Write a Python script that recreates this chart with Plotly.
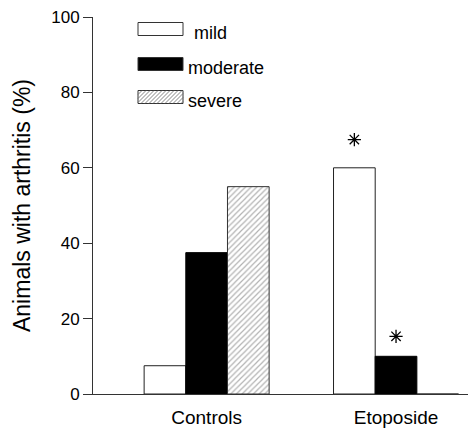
import plotly.graph_objects as go

categories = ["Controls", "Etoposide"]
series_names = ["mild", "moderate", "severe"]
mild = [7.5, 60.0]
moderate = [37.5, 10.0]
severe = [55.0, 0.0]
# significance stars: (category index, series index, y value)
star_cat = [1, 1]
star_series = [0, 1]
star_y = [67.5, 15.3]
y_ticks = [0, 20, 40, 60, 80, 100]

W, H = 468, 431
ML, MR, MT, MB = 93, 0, 17, 37
PW, PH = W - ML - MR, H - MT - MB
BARGAP = 0.34
bar_w = (1 - BARGAP) / 3
x_pos = list(range(len(categories)))

fig = go.Figure()
fig.add_trace(go.Bar(x=x_pos, y=mild, name="mild",
                     marker=dict(color="white", line=dict(color="#222", width=1))))
fig.add_trace(go.Bar(x=x_pos, y=moderate, name="moderate",
                     marker=dict(color="black", line=dict(color="black", width=1))))
fig.add_trace(go.Bar(x=x_pos, y=severe, name="severe",
                     marker=dict(color="white", line=dict(color="#333", width=1),
                                 pattern=dict(shape="/", fgcolor="#666", bgcolor="white",
                                              size=4, solidity=0.3))))

sx = [x_pos[c] + (s - 1) * bar_w for c, s in zip(star_cat, star_series)]
fig.add_trace(go.Scatter(x=sx, y=star_y, mode="markers", showlegend=False,
                         marker=dict(symbol="asterisk-open", size=11, color="black",
                                     line=dict(color="black", width=1.3))))

# manual legend
def px2paper(px, py):
    return (px - ML) / PW, (H - MB - py) / PH

shapes = []
annotations = []
box_x0, box_x1 = 138, 183
rows = [29, 64, 97]
text_x = [192, 186, 186]
for i, name in enumerate(series_names):
    cy = rows[i]
    y0, y1 = cy - 6.5, cy + 6.5
    a = px2paper(box_x0, y1)
    b = px2paper(box_x1, y0)
    fill = "black" if name == "moderate" else "white"
    shapes.append(dict(type="rect", xref="paper", yref="paper", x0=a[0], y0=a[1],
                       x1=b[0], y1=b[1], fillcolor=fill,
                       line=dict(color="#333", width=1), layer="above"))
    if name == "severe":
        step = 4
        h = y1 - y0
        k = box_x0 - h
        while k < box_x1:
            xs, ys = k, y1
            xe, ye = k + h, y0
            if xs < box_x0:
                ys = y1 - (box_x0 - xs)
                xs = box_x0
            if xe > box_x1:
                ye = y0 + (xe - box_x1)
                xe = box_x1
            if xe > xs:
                p0 = px2paper(xs, ys)
                p1 = px2paper(xe, ye)
                shapes.append(dict(type="line", xref="paper", yref="paper",
                                   x0=p0[0], y0=p0[1], x1=p1[0], y1=p1[1],
                                   line=dict(color="#666", width=0.8), layer="above"))
            k += step
    tp = px2paper(text_x[i], cy + 4)
    annotations.append(dict(xref="paper", yref="paper", x=tp[0], y=tp[1],
                            text=name, showarrow=False, xanchor="left", yanchor="middle",
                            font=dict(size=18, color="black")))

fig.update_layout(
    width=W, height=H,
    margin=dict(l=ML, r=MR, t=MT, b=MB, pad=0),
    paper_bgcolor="white", plot_bgcolor="white",
    barmode="group", bargap=BARGAP, bargroupgap=0,
    showlegend=False,
    font=dict(family="Liberation Sans, Arial, sans-serif", color="black"),
    shapes=shapes, annotations=annotations,
    xaxis=dict(range=[-0.6, 1.38], tickvals=x_pos, ticktext=categories,
               showline=True, linecolor="#333", linewidth=1, ticks="",
               showgrid=False, zeroline=False, tickfont=dict(size=19),
               ticklabelstandoff=6),
    yaxis=dict(range=[0, 100], tickvals=y_ticks, showline=True, linecolor="#333",
               linewidth=1, ticks="outside", ticklen=9, tickcolor="#333",
               showgrid=False, zeroline=False, tickfont=dict(size=17),
               title=dict(text="Animals with arthritis (%)", font=dict(size=23), standoff=14)),
)

fig.write_html("out.html",
               post_script="document.documentElement.style.overflow='hidden';"
                           "document.body.style.overflow='hidden';"
                           "document.body.style.margin='0';")
